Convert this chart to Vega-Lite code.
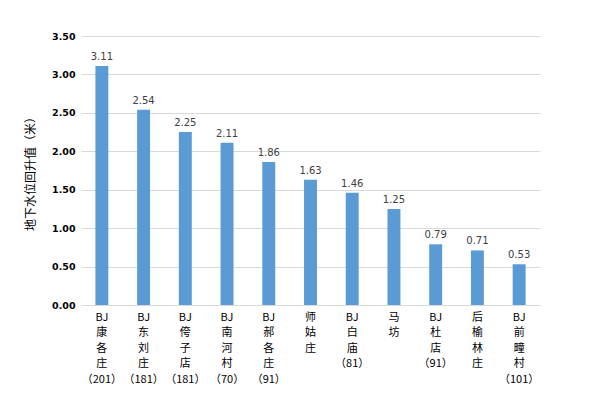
{
  "$schema": "https://vega.github.io/schema/vega-lite/v6.json",
  "width": 459,
  "height": 269,
  "autosize": "none",
  "padding": {"left": 81, "top": 36, "right": 60, "bottom": 98},
  "background": "#ffffff",
  "config": {"view": {"stroke": null}, "font": "Noto Sans CJK SC"},
  "data": {"values": [
    {"site": "BJ康各庄（201）", "v": 3.11},
    {"site": "BJ东刘庄（181）", "v": 2.54},
    {"site": "BJ侉子店（181）", "v": 2.25},
    {"site": "BJ南河村（70）", "v": 2.11},
    {"site": "BJ郝各庄（91）", "v": 1.86},
    {"site": "师姑庄", "v": 1.63},
    {"site": "BJ白庙（81）", "v": 1.46},
    {"site": "马坊", "v": 1.25},
    {"site": "BJ杜店（91）", "v": 0.79},
    {"site": "后榆林庄", "v": 0.71},
    {"site": "BJ前疃村（101）", "v": 0.53}
  ]},
  "encoding": {
    "x": {"field": "site", "type": "nominal", "sort": null,
      "scale": {"paddingInner": 0.69, "paddingOuter": 0.345},
      "axis": {"title": null, "labelAngle": 0, "domain": false, "ticks": false,
        "labelFont": "Noto Sans CJK SC", "labelFontSize": 11, "labelColor": "#000000",
        "labelBaseline": "top", "labelPadding": 6, "labelLineHeight": 15.5,
        "labelExpr": "split(replace(datum.label, regexp('(?<=.)(?=[一-鿿（])', 'g'), '|'), '|')"}},
    "y": {"field": "v", "type": "quantitative",
      "scale": {"domain": [0, 3.5]},
      "axis": {"title": "地下水位回升值（米）", "titleFontSize": 12, "titleFontWeight": "normal",
        "titleColor": "#000000", "titlePadding": 14, "titleFont": "Noto Sans CJK SC",
        "values": [0, 0.5, 1, 1.5, 2, 2.5, 3, 3.5], "format": ".2f",
        "labelFont": "DejaVu Sans", "labelFontWeight": "bold", "labelFontSize": 9.5, "labelColor": "#000000",
        "labelPadding": 6,
        "domain": false, "ticks": false, "gridColor": "#d9d9d9", "gridWidth": 1}}
  },
  "layer": [
    {"mark": {"type": "bar", "color": "#5b9bd5"}},
    {"mark": {"type": "text", "dy": -9, "fontSize": 10, "color": "#404040", "font": "DejaVu Sans"},
     "encoding": {"text": {"field": "v", "type": "quantitative", "format": ".2f"}}},
    {"mark": {"type": "rule", "color": "#d9d9d9"}, "encoding": {"y": {"datum": 0}}}
  ]
}
